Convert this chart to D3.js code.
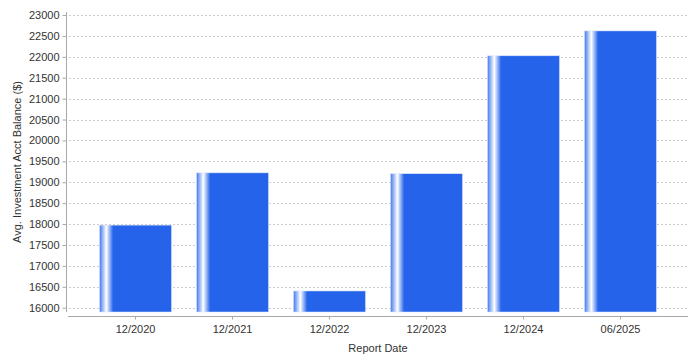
<!DOCTYPE html>
<html>
<head>
<meta charset="utf-8">
<script src="https://cdn.jsdelivr.net/npm/d3@7"></script>
<style>
  html, body { margin: 0; padding: 0; background: #fff; }
  svg { display: block; font-family: "Liberation Sans", Arial, sans-serif; }
</style>
</head>
<body>
<svg id="chart" width="700" height="360"></svg>
<script>
const categories = ["12/2020", "12/2021", "12/2022", "12/2023", "12/2024", "06/2025"];
const values = [17975, 19225, 16400, 19205, 22025, 22620];
const yTicks = [16000, 16500, 17000, 17500, 18000, 18500, 19000, 19500, 20000, 20500, 21000, 21500, 22000, 22500, 23000];
const yDomain = [15897, 23072];
const xTitle = "Report Date";
const yTitle = "Avg. Investment Acct Balance ($)";

(function () {
const svg = d3.select("#chart");
const pLeft = 68, pRight = 688, pTop = 12, pBottom = 312;
const barColor = "#2563eb";
const textColor = "#333";

const x = d3.scaleBand().domain(categories).range([pLeft, pRight]).paddingInner(0.2577).paddingOuter(0.325);
const y = d3.scaleLinear().domain(yDomain).range([pBottom, pTop]);

// gradient
const defs = svg.append("defs");
const grad = defs.append("linearGradient").attr("id", "barGrad")
  .attr("x1", "0%").attr("x2", "100%").attr("y1", "0%").attr("y2", "0%");
grad.append("stop").attr("offset", "0%").attr("stop-color", "#3f78ee");
grad.append("stop").attr("offset", "9.5%").attr("stop-color", "#ffffff");
grad.append("stop").attr("offset", "19%").attr("stop-color", barColor);
grad.append("stop").attr("offset", "100%").attr("stop-color", barColor);

// gridlines
svg.append("g").selectAll("line").data(yTicks).join("line")
  .attr("x1", pLeft + 1).attr("x2", pRight)
  .attr("y1", d => Math.round(y(d)) + 0.5).attr("y2", d => Math.round(y(d)) + 0.5)
  .attr("stroke", "#cdcdcd").attr("stroke-width", 1).attr("stroke-dasharray", "2,2");

// bars
svg.append("g").selectAll("rect").data(categories).join("rect")
  .attr("x", d => x(d))
  .attr("width", x.bandwidth())
  .attr("y", (d, i) => y(values[i]))
  .attr("height", (d, i) => y(yDomain[0]) - y(values[i]))
  .attr("fill", "url(#barGrad)")
  .attr("stroke", "rgba(220,230,252,0.9)").attr("stroke-width", 0.6);

// y axis
const yAxis = d3.axisLeft(y).tickValues(yTicks).tickFormat(d3.format("d")).tickSize(4).tickPadding(3);
const gy = svg.append("g").attr("transform", `translate(${pLeft - 2 + 0.5},0)`).call(yAxis);
gy.select(".domain").attr("stroke", "#a8a8a8").attr("d", `M0,${pTop}V${pBottom}`);
gy.selectAll(".tick line").attr("stroke", "#a8a8a8");
gy.selectAll(".tick text").attr("fill", textColor).style("font-size", "11px");

// x axis
const xAxis = d3.axisBottom(x).tickSize(3).tickPadding(6);
const gx = svg.append("g").attr("transform", `translate(0,${pBottom + 4 + 0.5})`).call(xAxis);
gx.select(".domain").attr("stroke", "#a8a8a8").attr("d", `M${pLeft},0H${pRight}`);
gx.selectAll(".tick line").attr("stroke", "#a8a8a8");
gx.selectAll(".tick text").attr("fill", textColor).style("font-size", "11px");

// titles
svg.append("text").attr("x", (pLeft + pRight) / 2).attr("y", 352)
  .attr("text-anchor", "middle").attr("fill", textColor).style("font-size", "11px").text(xTitle);
svg.append("text").attr("transform", `translate(21,${(pTop + pBottom) / 2}) rotate(-90)`)
  .attr("text-anchor", "middle").attr("fill", textColor).style("font-size", "11px").text(yTitle);
})();
</script>
</body>
</html>
